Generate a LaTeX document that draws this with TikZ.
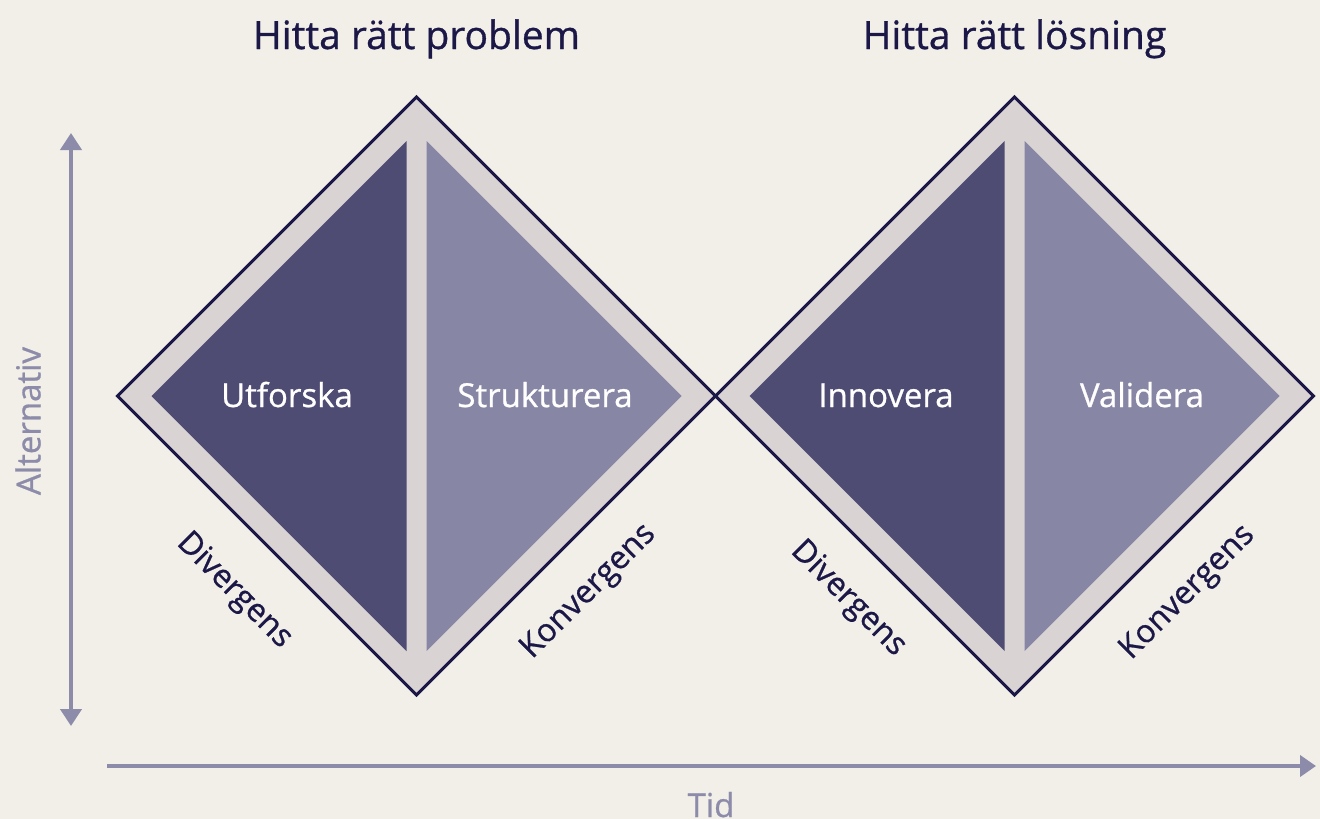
\documentclass[tikz,border=0pt]{standalone}
\usepackage{fontspec}
\setmainfont[FakeBold=0.8]{Open Sans}
\usetikzlibrary{arrows.meta}

\definecolor{paper}{HTML}{F2EEE8}
\definecolor{rim}{HTML}{D9D3D4}
\definecolor{deep}{HTML}{4F4C74}
\definecolor{soft}{HTML}{8886A5}
\definecolor{ink}{HTML}{1B1848}
\definecolor{axis}{HTML}{8C8BAA}

\tikzset{
  outline/.style={draw=ink, line width=3pt, line join=miter},
  axisline/.style={draw=axis, line width=4pt},
  heading/.style={font=\fontsize{39}{42}\selectfont, text=ink, anchor=base, inner sep=0pt},
  phase/.style={font=\fontsize{33}{36}\selectfont, text=white, anchor=base, inner sep=0pt},
  side/.style={font=\fontsize{32}{36}\selectfont, text=ink, inner sep=0pt},
  axislabel/.style={font=\fontsize{33}{36}\selectfont, text=axis, inner sep=0pt},
}

\begin{document}
\begin{tikzpicture}[x=1pt,y=-1pt]
  \fill[paper] (0,0) rectangle (1320,819);
  \useasboundingbox (0,0) rectangle (1320,819);

  % diamond centres
  \coordinate (L) at (416.5,396);
  \coordinate (R) at (1014.5,396);

  % grey rims of both diamonds
  \foreach \c in {L,R}{
    \fill[rim] ([xshift=-299pt]\c) -- ([yshift=-299pt]\c) -- ([xshift=299pt]\c) -- ([yshift=299pt]\c) -- cycle;
  }
  % outlines drawn over both rims so they cross in the middle
  \foreach \c in {L,R}{
    \draw[outline] ([xshift=-299pt]\c) -- ([yshift=-299pt]\c) -- ([xshift=299pt]\c) -- ([yshift=299pt]\c) -- cycle;
  }
  % inner halves
  \foreach \c in {L,R}{
    \fill[deep] ([shift={(-10,-255)}]\c) -- ([shift={(-265,0)}]\c) -- ([shift={(-10,255)}]\c) -- cycle;
    \fill[soft] ([shift={(10,-255)}]\c) -- ([shift={(265,0)}]\c) -- ([shift={(10,255)}]\c) -- cycle;
  }

  % headings
  \node[heading] (h1) at (416.5,49) {Hitta rätt problem};
  \node[heading] (h2) at (1014.5,49) {Hitta rätt lösning};

  % phase labels
  \node[phase] (p1) at (287,407) {Utforska};
  \node[phase] (p2) at (545,407) {Strukturera};
  \node[phase] (p3) at (886,407) {Innovera};
  \node[phase] (p4) at (1142,407) {Validera};

  % divergence / convergence labels along the lower edges
  \node[side, rotate=-45] (d1) at (234,591) {Divergens};
  \node[side, rotate=45]  (k1) at (589,592) {Konvergens};
  \node[side, rotate=-45] (d2) at (848,599) {Divergens};
  \node[side, rotate=45]  (k2) at (1188,593) {Konvergens};

  % axes
  \coordinate (vt) at (71,133);
  \coordinate (vb) at (71,726);
  \draw[axisline, {Triangle[length=17pt,width=21pt]}-{Triangle[length=17pt,width=21pt]}] (vt) -- (vb);
  \node[axislabel, rotate=90] (alt) at (28,421) {Alternativ};

  \coordinate (hl) at (107,766);
  \coordinate (hr) at (1316,766);
  \draw[axisline, -{Triangle[length=16pt,width=21pt]}] (hl) -- (hr);
  \node[axislabel, anchor=base] (tid) at (711,817) {Tid};
\end{tikzpicture}
\end{document}
